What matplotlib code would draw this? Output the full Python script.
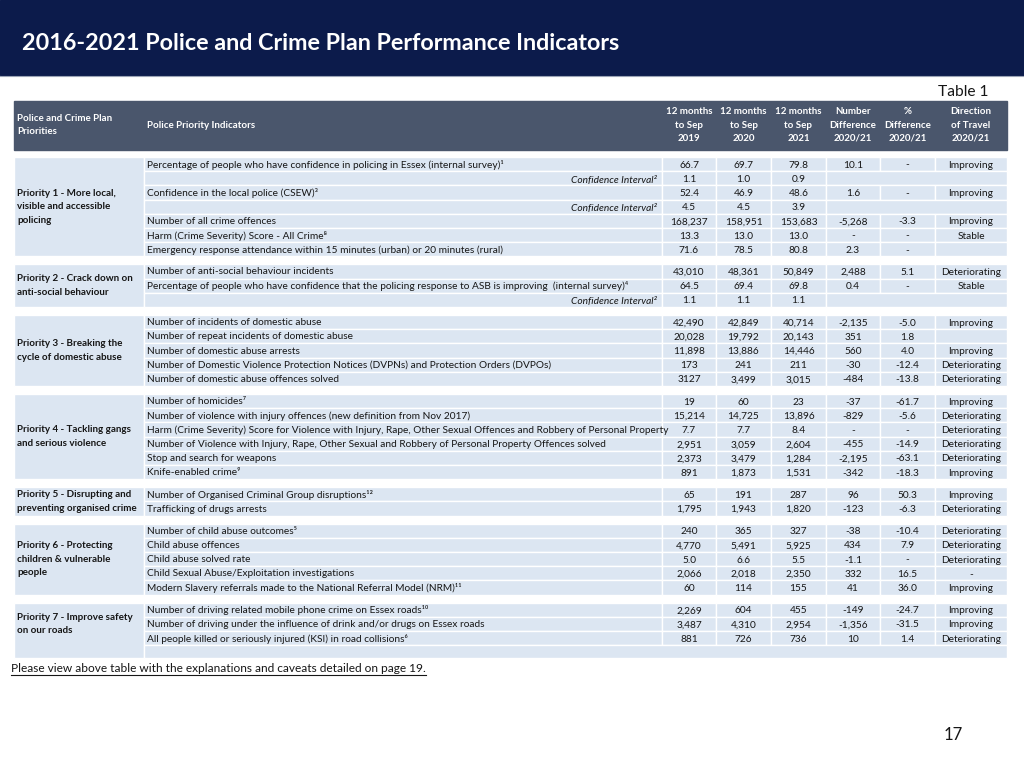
import matplotlib.pyplot as plt
from matplotlib.patches import Rectangle

plt.rcParams['font.family'] = ['Lato', 'DejaVu Sans']

title = "2016-2021 Police and Crime Plan Performance Indicators"
col_headers = ["12 months\nto Sep\n2019", "12 months\nto Sep\n2020", "12 months\nto Sep\n2021",
               "Number\nDifference\n2020/21", "%\nDifference\n2020/21", "Direction\nof Travel\n2020/21"]

priorities = ["Priority 1 - More local,\nvisible and accessible\npolicing",
              "Priority 2 - Crack down on\nanti-social behaviour",
              "Priority 3 - Breaking the\ncycle of domestic abuse",
              "Priority 4 - Tackling gangs\nand serious violence",
              "Priority 5 - Disrupting and\npreventing organised crime",
              "Priority 6 - Protecting\nchildren & vulnerable\npeople",
              "Priority 7 - Improve safety\non our roads"]
group_sizes = [7, 3, 5, 6, 2, 5, 3]

CI = "Confidence Interval²"
indicators = [
    "Percentage of people who have confidence in policing in Essex (internal survey)¹", CI,
    "Confidence in the local police (CSEW)³", CI,
    "Number of all crime offences",
    "Harm (Crime Severity) Score - All Crime⁸",
    "Emergency response attendance within 15 minutes (urban) or 20 minutes (rural)",
    "Number of anti-social behaviour incidents",
    "Percentage of people who have confidence that the policing response to ASB is improving  (internal survey)⁴", CI,
    "Number of incidents of domestic abuse",
    "Number of repeat incidents of domestic abuse",
    "Number of domestic abuse arrests",
    "Number of Domestic Violence Protection Notices (DVPNs) and Protection Orders (DVPOs)",
    "Number of domestic abuse offences solved",
    "Number of homicides⁷",
    "Number of violence with injury offences (new definition from Nov 2017)",
    "Harm (Crime Severity) Score for Violence with Injury, Rape, Other Sexual Offences and Robbery of Personal Property",
    "Number of Violence with Injury, Rape, Other Sexual and Robbery of Personal Property Offences solved",
    "Stop and search for weapons",
    "Knife-enabled crime⁹",
    "Number of Organised Criminal Group disruptions¹²",
    "Trafficking of drugs arrests",
    "Number of child abuse outcomes⁵",
    "Child abuse offences",
    "Child abuse solved rate",
    "Child Sexual Abuse/Exploitation investigations",
    "Modern Slavery referrals made to the National Referral Model (NRM)¹¹",
    "Number of driving related mobile phone crime on Essex roads¹⁰",
    "Number of driving under the influence of drink and/or drugs on Essex roads",
    "All people killed or seriously injured (KSI) in road collisions⁶",
]
sep_2019 = ["66.7", "1.1", "52.4", "4.5", "168,237", "13.3", "71.6",
            "43,010", "64.5", "1.1",
            "42,490", "20,028", "11,898", "173", "3127",
            "19", "15,214", "7.7", "2,951", "2,373", "891",
            "65", "1,795",
            "240", "4,770", "5.0", "2,066", "60",
            "2,269", "3,487", "881"]
sep_2020 = ["69.7", "1.0", "46.9", "4.5", "158,951", "13.0", "78.5",
            "48,361", "69.4", "1.1",
            "42,849", "19,792", "13,886", "241", "3,499",
            "60", "14,725", "7.7", "3,059", "3,479", "1,873",
            "191", "1,943",
            "365", "5,491", "6.6", "2,018", "114",
            "604", "4,310", "726"]
sep_2021 = ["79.8", "0.9", "48.6", "3.9", "153,683", "13.0", "80.8",
            "50,849", "69.8", "1.1",
            "40,714", "20,143", "14,446", "211", "3,015",
            "23", "13,896", "8.4", "2,604", "1,284", "1,531",
            "287", "1,820",
            "327", "5,925", "5.5", "2,350", "155",
            "455", "2,954", "736"]
num_diff = ["10.1", None, "1.6", None, "-5,268", "-", "2.3",
            "2,488", "0.4", None,
            "-2,135", "351", "560", "-30", "-484",
            "-37", "-829", "-", "-455", "-2,195", "-342",
            "96", "-123",
            "-38", "434", "-1.1", "332", "41",
            "-149", "-1,356", "10"]
pct_diff = ["-", None, "-", None, "-3.3", "-", "-",
            "5.1", "-", None,
            "-5.0", "1.8", "4.0", "-12.4", "-13.8",
            "-61.7", "-5.6", "-", "-14.9", "-63.1", "-18.3",
            "50.3", "-6.3",
            "-10.4", "7.9", "-", "16.5", "36.0",
            "-24.7", "-31.5", "1.4"]
direction = ["Improving", None, "Improving", None, "Improving", "Stable", "",
             "Deteriorating", "Stable", None,
             "Improving", "", "Improving", "Deteriorating", "Deteriorating",
             "Improving", "Deteriorating", "Deteriorating", "Deteriorating", "Deteriorating", "Improving",
             "Improving", "Deteriorating",
             "Deteriorating", "Deteriorating", "Deteriorating", "-", "Improving",
             "Improving", "Improving", "Deteriorating"]

navy = "#0c1b4b"
slate = "#4a566c"
cell = "#dce6f2"
ink = "#161616"
fs = 7.3

fig = plt.figure(figsize=(10.24, 7.68), dpi=100)
ax = fig.add_axes([0, 0, 1, 1])
ax.set_xlim(0, 1024)
ax.set_ylim(768, 0)
ax.axis('off')

# top band
ax.add_patch(Rectangle((0, 0), 1024, 75, color=navy))
ax.plot([0, 1024], [75.5, 75.5], color="#9aa3b5", lw=0.8)
ax.text(22, 42, title, color="white", fontsize=16.8, fontweight="bold", va="center_baseline")
ax.text(988, 90, "Table 1", fontsize=11.2, ha="right", va="center_baseline", color=ink)

# column geometry
x_left, x_ind, x_val = 14, 144, 662
col_edges = [662, 716, 771, 826, 880, 935, 1007]

# header row
hfs = 7.0
ax.add_patch(Rectangle((x_left, 101), 1007 - x_left, 49, color=slate))
ax.text(17, 125, "Police and Crime Plan\nPriorities", color="white", fontsize=hfs,
        fontweight="bold", va="center", linespacing=1.6)
ax.text(147, 125, "Police Priority Indicators", color="white", fontsize=hfs,
        fontweight="bold", va="center")
for i, h in enumerate(col_headers):
    xc = (col_edges[i] + col_edges[i + 1]) / 2
    ax.text(xc, 125, h, color="white", fontsize=hfs, fontweight="bold",
            ha="center", va="center", linespacing=1.6)

# body
row_h, gap = 14.2, 8
top = 157
r = 0
columns = [sep_2019, sep_2020, sep_2021, num_diff, pct_diff, direction]
for g, n in enumerate(group_sizes):
    extra = 13 if g == len(group_sizes) - 1 else 0
    gh = n * row_h
    ax.add_patch(Rectangle((x_left, top), x_ind - x_left, gh + extra,
                           facecolor=cell, edgecolor="white", lw=1))
    ax.text(17, top + gh / 2, priorities[g], fontsize=7.1, fontweight="bold",
            va="center", linespacing=1.65, color=ink)
    for k in range(n):
        y0 = top + k * row_h
        yc = y0 + row_h / 2
        p = Rectangle((x_ind, y0), x_val - x_ind, row_h, facecolor=cell,
                      edgecolor="white", lw=1)
        ax.add_patch(p)
        if indicators[r] == CI:
            ax.text(657, yc + 1, CI, fontsize=fs, style="italic", ha="right",
                    va="center_baseline", color=ink)
        else:
            t = ax.text(147, yc - 0.5, indicators[r], fontsize=fs, va="center_baseline",
                        color=ink)
            t.set_clip_path(p)
        for c in range(6):
            val = columns[c][r]
            if val is None:
                continue
            ax.add_patch(Rectangle((col_edges[c], y0), col_edges[c + 1] - col_edges[c], row_h,
                                   facecolor=cell, edgecolor="white", lw=1))
            xc = (col_edges[c] + col_edges[c + 1]) / 2
            ax.text(xc, yc, val, fontsize=fs, ha="center", va="center_baseline", color=ink)
        if columns[3][r] is None:
            ax.add_patch(Rectangle((col_edges[3], y0), col_edges[6] - col_edges[3], row_h,
                                   facecolor=cell, edgecolor="white", lw=1))
        r += 1
    if extra:
        ax.add_patch(Rectangle((x_ind, top + gh), 1007 - x_ind, extra,
                               facecolor=cell, edgecolor="white", lw=1))
    top += gh + extra + gap

# footer
ft = ax.text(11, 668, "Please view above table with the explanations and caveats detailed on page 19.",
             fontsize=8.6, va="center_baseline", color=ink)
fig.canvas.draw()
bb = ft.get_window_extent().transformed(ax.transData.inverted())
ax.plot([bb.x0, bb.x1], [674.5, 674.5], color=ink, lw=0.8)
ax.text(953, 733, "17", fontsize=12, ha="center", va="center_baseline", color=ink)

fig.savefig("out.png", dpi=100)
